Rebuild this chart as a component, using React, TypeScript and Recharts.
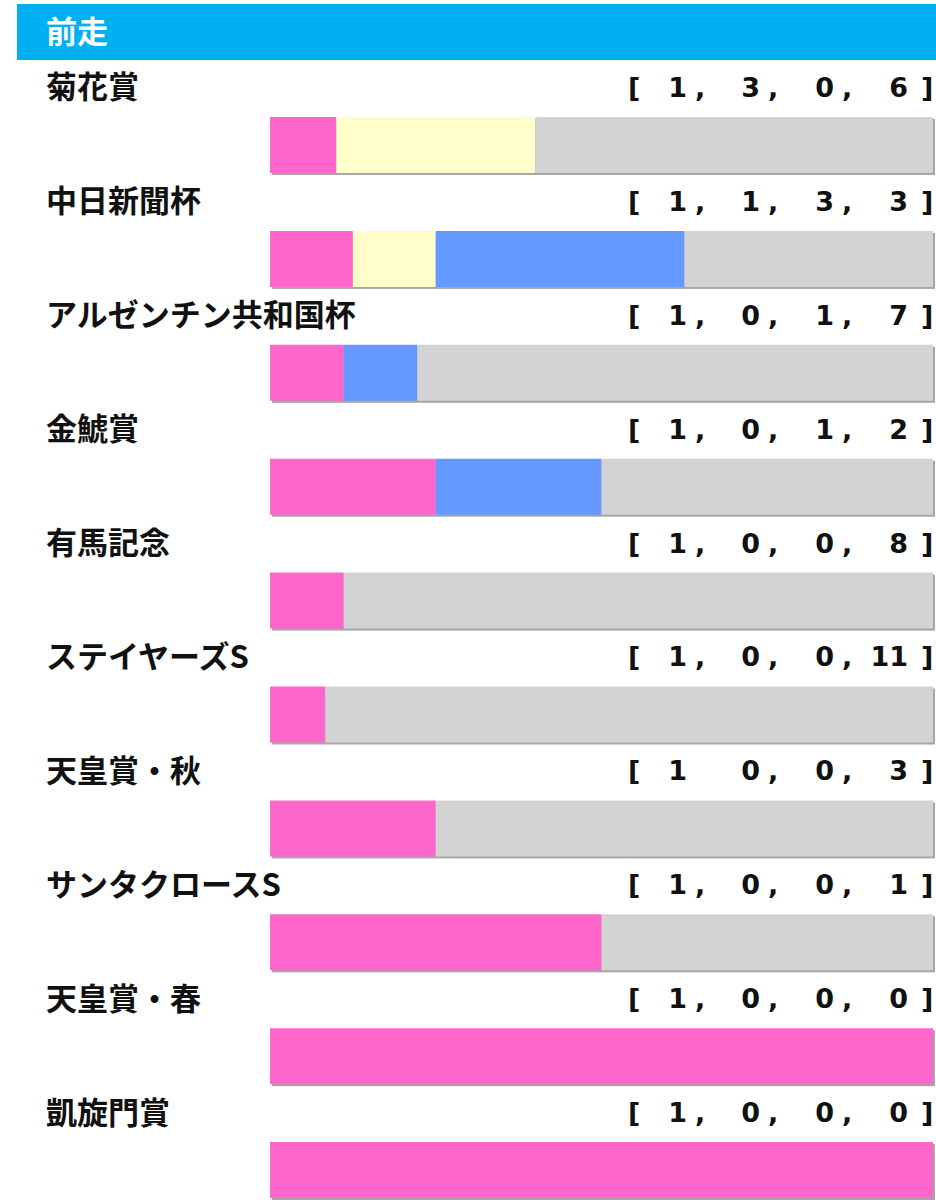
import React from 'react';
import { BarChart, Bar, XAxis, YAxis } from 'recharts';

const categories = ['菊花賞', '中日新聞杯', 'アルゼンチン共和国杯', '金鯱賞', '有馬記念', 'ステイヤーズS', '天皇賞・秋', 'サンタクロースS', '天皇賞・春', '凱旋門賞'];
const firsts = [1, 1, 1, 1, 1, 1, 1, 1, 1, 1];
const seconds = [3, 1, 0, 0, 0, 0, 0, 0, 0, 0];
const thirds = [0, 3, 1, 1, 0, 0, 0, 0, 0, 0];
const others = [6, 3, 7, 2, 8, 11, 3, 1, 0, 0];
// separators printed between the four counts (the 天皇賞・秋 row lost its first comma)
const separators = [',,,', ',,,', ',,,', ',,,', ',,,', ',,,', ' ,,', ',,,', ',,,', ',,,'];

const data = categories.map((name, i) => ({
    name,
    first: firsts[i],
    second: seconds[i],
    third: thirds[i],
    other: others[i],
}));

const numX = [687, 760, 834, 908];
const sepX = [695, 768, 842];
const jpFont = "'Noto Sans CJK JP', 'Noto Sans', sans-serif";
const numFont = "DejaVu Sans, Verdana, sans-serif";

const RowLabel = ({ y, payload }: any) => {
    const i = categories.indexOf(payload.value);
    const counts = [firsts[i], seconds[i], thirds[i], others[i]];
    const ty = y - 58;
    const num = { fontFamily: numFont, fontWeight: 700, fontSize: 27, fill: '#111' };
    return (
        <g>
            <text x={46} y={ty - 2} dominantBaseline="central" fontFamily={jpFont} fontWeight={700} fontSize={31} fill="#111">
                {payload.value}
            </text>
            <text x={628} y={ty + 10} {...num}>[</text>
            {counts.map((c, k) => (
                <text key={`n${k}`} x={numX[k]} y={ty + 10} textAnchor="end" {...num}>
                    {c}
                </text>
            ))}
            {separators[i].split('').map((s, k) => (
                <text key={`s${k}`} x={sepX[k]} y={ty + 10} {...num}>
                    {s.trim()}
                </text>
            ))}
            <text x={921} y={ty + 10} {...num}>]</text>
        </g>
    );
};

const Shadow = (props: any) => (
    <rect x={props.x + 2} y={props.y + 2} width={props.width} height={props.height} fill="#a6a6a6" />
);

const App = () => {
    return (
        <div style={{ position: 'absolute', left: 0, top: 0, width: 936, height: 1200, overflow: 'hidden', background: '#fff' }}>
            <div
                style={{
                    position: 'absolute',
                    left: 17,
                    top: 4,
                    width: 919,
                    height: 56,
                    background: '#00B0F0',
                    color: '#fff',
                    fontFamily: jpFont,
                    fontWeight: 700,
                    fontSize: 31,
                    lineHeight: '52px',
                    paddingLeft: 29,
                    boxSizing: 'border-box',
                }}
            >
                前走
            </div>
            <div style={{ position: 'absolute', left: 0, top: 0 }}>
                <BarChart
                    width={936}
                    height={1227}
                    data={data}
                    layout="vertical"
                    stackOffset="expand"
                    barSize={56}
                    margin={{ top: 88, right: 3, bottom: 0, left: 0 }}
                >
                    <XAxis type="number" domain={[0, 1]} hide />
                    <YAxis type="category" dataKey="name" width={270} axisLine={false} tickLine={false} tick={<RowLabel />} interval={0} />
                    <Bar dataKey="first" stackId="a" fill="#FF66CC" background={<Shadow />} isAnimationActive={false} />
                    <Bar dataKey="second" stackId="a" fill="#FFFFCC" isAnimationActive={false} />
                    <Bar dataKey="third" stackId="a" fill="#6699FF" isAnimationActive={false} />
                    <Bar dataKey="other" stackId="a" fill="#D3D3D3" isAnimationActive={false} />
                </BarChart>
            </div>
        </div>
    );
};

export default App;
